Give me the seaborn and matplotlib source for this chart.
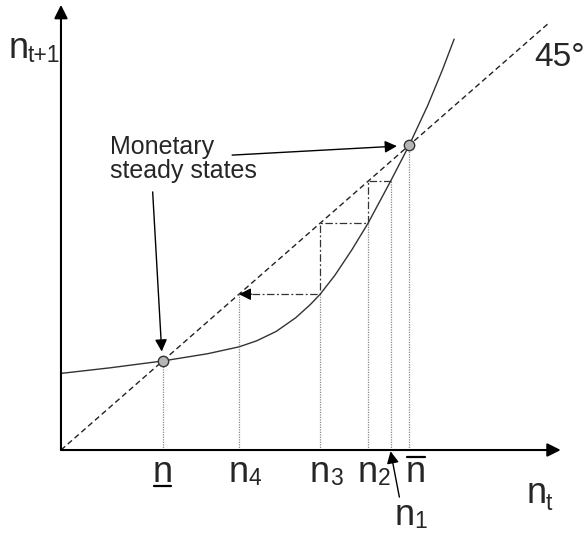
import matplotlib
matplotlib.use('Agg')
import matplotlib.pyplot as plt
import seaborn as sns

# law of motion n_{t+1} = f(n_t)
curve_nt = [0, 10, 20.8, 30, 36.4, 40, 44, 48, 51, 53.0, 56, 59.5, 62.8, 67.4, 71.2, 75, 78, 80.4]
curve_nt1 = [17.9, 19.2, 20.8, 22.5, 24.1, 25.5, 27.7, 30.9, 34.0, 36.4, 40.8, 46.8, 53.0, 62.8, 71.2, 80.5, 88.8, 96.0]

# 45 degree line
diag = [0, 100]

# monetary steady states: n (low) and n bar
steady_states = [20.8, 71.2]
# cobweb iterates n1, n2, n3, n4
iterates = [67.4, 62.8, 53.0, 36.4]
iter_subs = ['1', '2', '3', '4']

sns.set_style('white')
plt.rcParams['font.family'] = ['Liberation Sans', 'DejaVu Sans']

fig = plt.figure(figsize=(5.87, 5.39), dpi=100)
ax = fig.add_axes([0, 0, 1, 1])
ax.set_xlim(-12.47, 107.57)
ax.set_ylim(-20.79, 105.14)
ax.axis('off')

head = dict(arrowstyle='-|>', color='k', shrinkA=0, shrinkB=0)


def n_label(xc, yb, sub='', drop=2.2, bar=None, gap=7.0):
    # big "n" centred at xc with a small subscript to its right
    ax.text(xc, yb, 'n', fontsize=26, ha='center', va='baseline')
    if sub:
        ax.annotate(sub, xy=(xc, yb), xytext=(gap, -drop), textcoords='offset points',
                    fontsize=16.5, ha='left', va='baseline')
    if bar is not None:
        ax.plot([xc - 1.75, xc + 1.75], [bar, bar], color='k', lw=1.6)


# axes with arrow heads
ax.annotate('', xy=(102.2, 0), xytext=(0, 0), arrowprops=dict(head, lw=1.5, mutation_scale=20))
ax.annotate('', xy=(0, 104.0), xytext=(0, 0), arrowprops=dict(head, lw=1.5, mutation_scale=20))

# 45 degree line and the curve
sns.lineplot(x=diag, y=diag, color='#222222', lw=1.0, linestyle=(0, (4, 2.5)), ax=ax)
sns.lineplot(x=curve_nt, y=curve_nt1, color='#333333', lw=1.0, ax=ax)

# dotted drop lines down to the axis
n1, n2, n3, n4 = iterates
tops = [n2, n3, n4, n4]
for n, top in zip(iterates, tops):
    ax.plot([n, n], [0, top], color='#888888', lw=0.9, ls=(0, (1, 1)))
for s in steady_states:
    ax.plot([s, s], [0, s], color='#888888', lw=0.9, ls=(0, (1, 1)))

# cobweb staircase
stair_x = [n1, n2, n2, n3, n3, n4 + 2.2]
stair_y = [n2, n2, n3, n3, n4, n4]
ax.plot(stair_x, stair_y, color='#333333', lw=0.9, ls=(0, (6, 2, 1.5, 2)))
ax.annotate('', xy=(n4, n4), xytext=(n4 + 2.6, n4), arrowprops=dict(head, lw=0.9, mutation_scale=18))

# steady state markers
sns.scatterplot(x=steady_states, y=steady_states, s=56, color='#b5b5b5',
                edgecolor='#333333', linewidth=1, zorder=5, ax=ax)

# annotation text and pointers
ax.text(10.0, 73.6, 'Monetary\nsteady states', fontsize=18, ha='left', va='top', linespacing=1.0)
n_low, n_bar = steady_states
ax.annotate('', xy=(n_bar - 2.5, n_bar - 0.2), xytext=(35.0, 68.9),
            arrowprops=dict(head, lw=1.0, mutation_scale=18))
ax.annotate('', xy=(n_low - 0.2, n_low + 2.2), xytext=(18.75, 60.3),
            arrowprops=dict(head, lw=1.0, mutation_scale=18))

ax.text(102.0, 91.8, '45°', fontsize=24, ha='center', va='center')
n_label(-8.6, 91.6, 't+1', drop=3.0, gap=6.5)
n_label(97.2, -12.4, 't', drop=5.0)

# labels on the n_t axis
for n, sub in zip(iterates[1:], iter_subs[1:]):
    n_label(n, -7.5, sub)
n_label(n_low, -7.5, bar=-8.4)
n_label(n_bar + 1.4, -7.5, bar=-1.6)
n_label(n1 + 2.9, -17.5, iter_subs[0])
ax.annotate('', xy=(n1, -0.3), xytext=(n1 + 1.8, -11.0),
            arrowprops=dict(head, lw=1.0, mutation_scale=18))

fig.savefig('out.png', dpi=100)
